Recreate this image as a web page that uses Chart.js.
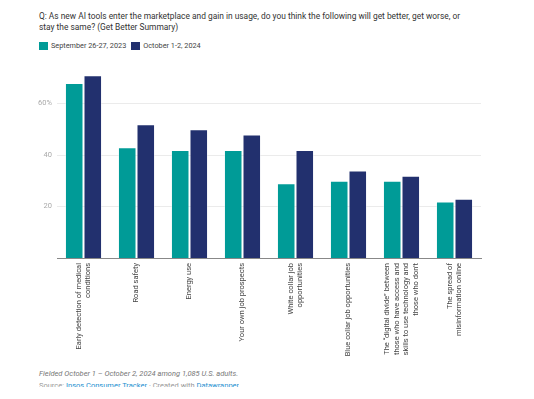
<!DOCTYPE html>
<html>
<head>
<meta charset="utf-8">
<script src="https://cdn.jsdelivr.net/npm/chart.js@4.4.0/dist/chart.umd.min.js"></script>
<style>
  html, body { margin: 0; padding: 0; background: #fff; }
  body { width: 534px; height: 399px; overflow: hidden; position: relative; font-family: Roboto, "Open Sans", sans-serif; }
  .title { position: absolute; left: 39px; top: 11px; font-size: 8.4px; line-height: 11px; color: #333; white-space: nowrap; }
  .legend { position: absolute; left: 39px; top: 41px; font-size: 7.3px; color: #444; white-space: nowrap; }
  .legend span.box { display: inline-block; width: 9px; height: 8px; vertical-align: -2px; margin-right: 3px; }
  .legend span.item { margin-right: 5px; }
  .chart-wrap { position: absolute; left: 0; top: 55px; width: 534px; height: 310px; }
  .note { position: absolute; left: 39px; top: 369px; font-size: 7.5px; font-style: italic; color: #777; white-space: nowrap; }
  .source { position: absolute; left: 39px; top: 381px; height: 6px; overflow: hidden; font-size: 7.5px; line-height: 10px; color: #999; white-space: nowrap; }
  .source a { color: #1d8fcf; text-decoration: none; }
</style>
</head>
<body>
<div class="title">Q: As new AI tools enter the marketplace and gain in usage, do you think the following will get better, get worse, or<br>stay the same? (Get Better Summary)</div>
<div class="legend" id="legend"></div>
<div class="chart-wrap"><canvas id="barChart" width="534" height="310"></canvas></div>
<div class="note">Fielded October 1 – October 2, 2024 among 1,085 U.S. adults.</div>
<div class="source">Source: <a>Ipsos Consumer Tracker</a> · Created with <a>Datawrapper</a></div>

<script>
  // categories (one array per wrapped label)
  const categories = [
    ["Early detection of medical", "conditions"],
    ["Road safety"],
    ["Energy use"],
    ["Your own job prospects"],
    ["White collar job", "opportunities"],
    ["Blue collar job opportunities"],
    ["The \u201cdigital divide\u201d between", "those who have access and", "skills to use technology and", "those who don\u2019t"],
    ["The spread of", "misinformation online"]
  ];

  const seriesNames = ["September 26-27, 2023", "October 1-2, 2024"];
  const sept2023 = [68, 43, 42, 42, 29, 30, 30, 22];
  const oct2024 = [71, 52, 50, 48, 42, 34, 32, 23];

  const yTicks = [20, 40, 60];

  const colors = ["#009b97", "#22306e"];

  // html legend
  const legend = document.getElementById("legend");
  seriesNames.forEach(function (name, i) {
    const item = document.createElement("span");
    item.className = "item";
    item.innerHTML = '<span class="box" style="background:' + colors[i] + '"></span>' + name;
    legend.appendChild(item);
  });

  // draws the rotated, multi-line category labels centred on each tick
  const rotatedLabels = {
    id: "rotatedLabels",
    afterDraw: function (chart) {
      const ctx = chart.ctx;
      const xScale = chart.scales.x;
      const lh = 9.7;
      ctx.save();
      ctx.font = "7.5px Roboto";
      ctx.fillStyle = "#444";
      ctx.textAlign = "right";
      ctx.textBaseline = "middle";
      categories.forEach(function (lines, i) {
        const x = xScale.getPixelForValue(i);
        ctx.save();
        ctx.translate(x, xScale.top + 5);
        ctx.rotate(-Math.PI / 2);
        lines.forEach(function (line, j) {
          ctx.fillText(line, 0, (j - (lines.length - 1) / 2) * lh);
        });
        ctx.restore();
      });
      ctx.restore();
    }
  };

  const ctx = document.getElementById("barChart").getContext("2d");
  new Chart(ctx, {
    type: "bar",
    data: {
      labels: categories.map(function (c) { return c.join(" "); }),
      datasets: [
        {
          label: seriesNames[0],
          data: sept2023,
          backgroundColor: colors[0],
          borderColor: "rgba(255,255,255,0.45)",
          borderWidth: 1,
          barPercentage: 1,
          categoryPercentage: 0.7
        },
        {
          label: seriesNames[1],
          data: oct2024,
          backgroundColor: colors[1],
          borderColor: "rgba(255,255,255,0.45)",
          borderWidth: 1,
          barPercentage: 1,
          categoryPercentage: 0.7
        }
      ]
    },
    options: {
      responsive: false,
      animation: false,
      layout: { padding: { top: 10, right: 53, bottom: 0, left: 0 } },
      plugins: {
        legend: { display: false },
        tooltip: { enabled: false }
      },
      scales: {
        x: {
          grid: { display: false, drawTicks: false },
          border: { display: true, color: "#888", width: 1 },
          ticks: { display: false },
          afterFit: function (scale) { scale.height = 107; }
        },
        y: {
          min: 0,
          max: 75,
          afterBuildTicks: function (scale) {
            scale.ticks = yTicks.map(function (v) { return { value: v }; });
          },
          afterFit: function (scale) { scale.width = 57; },
          grid: { color: "#ebebeb", drawTicks: false, lineWidth: 1 },
          border: { display: false },
          ticks: {
            color: "#aaa",
            padding: 5,
            font: { family: "Roboto", size: 7.5 },
            callback: function (value) {
              return value === 60 ? value + "%" : value;
            }
          }
        }
      }
    },
    plugins: [rotatedLabels]
  });
</script>
</body>
</html>
